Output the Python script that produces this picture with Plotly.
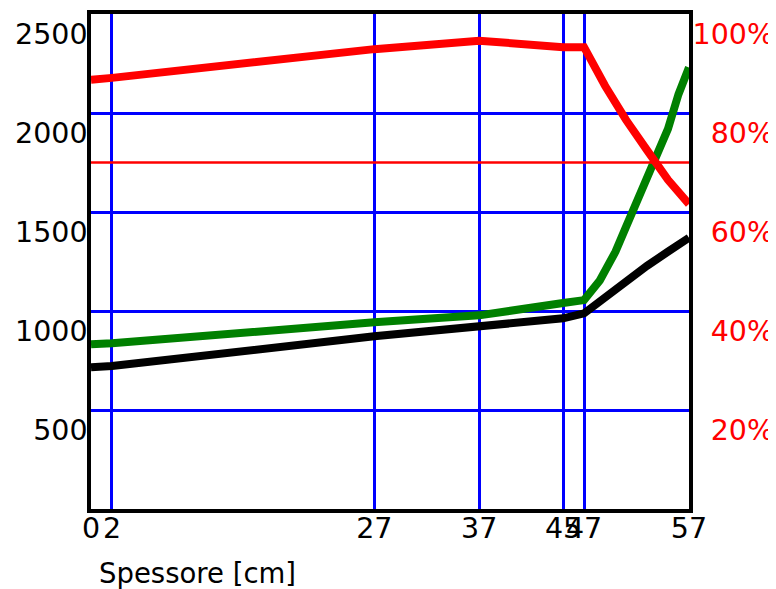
import plotly.graph_objects as go

# Diagramma: pressione di saturazione, pressione parziale e umidita' relativa lungo lo spessore
x_tick = [0, 2, 27, 37, 45, 47, 57]
y_tick = [500, 1000, 1500, 2000, 2500]
y2_tick = [20, 40, 60, 80, 100]
y2_text = ["20%", "40%", "60%", "80%", "100%"]

x_psat = [0, 2, 27, 37, 45, 47, 48.5, 50, 51, 52, 53.5, 55, 56, 57]
p_sat = [832, 837, 943, 978, 1040, 1055, 1154, 1300, 1425, 1555, 1725, 1920, 2095, 2230]

x_p = [0, 2, 27, 37, 45, 47, 49, 51, 53, 55, 57]
p_parz = [716, 722, 872, 922, 963, 988, 1070, 1150, 1228, 1300, 1370]

x_ur = [0, 2, 27, 37, 45, 47, 49, 51, 53, 55, 57]
ur = [86.7, 87.1, 92.9, 94.6, 93.3, 93.3, 85.5, 78.6, 72.5, 66.5, 61.6]

soglia_ur = 70

BLUE = "#0000ff"
FONT = "DejaVu Sans"

fig = go.Figure()
fig.add_trace(go.Scatter(x=[x_tick[0], x_tick[-1]], y=[soglia_ur, soglia_ur], yaxis="y2",
                         mode="lines", line={"color": "#ff0000", "width": 2.5}))
fig.add_trace(go.Scatter(x=x_p, y=p_parz, mode="lines", line={"color": "#000000", "width": 8}))
fig.add_trace(go.Scatter(x=x_psat, y=p_sat, mode="lines", line={"color": "#008000", "width": 8}))
fig.add_trace(go.Scatter(x=x_ur, y=ur, yaxis="y2", mode="lines", line={"color": "#ff0000", "width": 8}))

# the page body adds an 8px margin, so the figure is 8px smaller than the window
fig.update_layout(
    width=768,
    height=581,
    margin={"l": 83, "r": 2, "t": 6, "b": 80},
    showlegend=False,
    plot_bgcolor="white",
    paper_bgcolor="white",
    font={"family": FONT, "size": 28.5, "color": "#000000"},
    xaxis={
        "range": [0, 57],
        "domain": [0, 0.8755],
        "tickvals": x_tick,
        "tickangle": 0,
        "ticks": "",
        "ticklabelstandoff": -9,
        "showgrid": True,
        "gridcolor": BLUE,
        "gridwidth": 2.6,
        "zeroline": False,
        "showline": True,
        "linecolor": "#000000",
        "linewidth": 3.5,
        "mirror": True,
        "automargin": False,
    },
    yaxis={
        "range": [0, 2500],
        "tickvals": y_tick,
        "ticks": "",
        "showgrid": True,
        "gridcolor": BLUE,
        "gridwidth": 2.6,
        "zeroline": False,
        "showline": True,
        "linecolor": "#000000",
        "linewidth": 3.5,
        "mirror": True,
        "ticklabelshift": 20,
        "ticklabelstandoff": -6,
        "automargin": False,
    },
    yaxis2={
        "range": [0, 100],
        "overlaying": "y",
        "anchor": "free",
        "position": 1,
        "side": "left",
        "tickvals": y2_tick,
        "ticktext": y2_text,
        "ticks": "",
        "showgrid": False,
        "zeroline": False,
        "showline": False,
        "tickfont": {"color": "#ff0000"},
        "ticklabelshift": 20,
        "automargin": False,
    },
    annotations=[{
        "text": "Spessore [cm]",
        "font": {"size": 27.5},
        "xref": "paper", "yref": "paper",
        "x": 0.0088, "y": -0.13,
        "xanchor": "left", "yanchor": "middle",
        "showarrow": False,
    }],
)

fig.write_html("out.html")
